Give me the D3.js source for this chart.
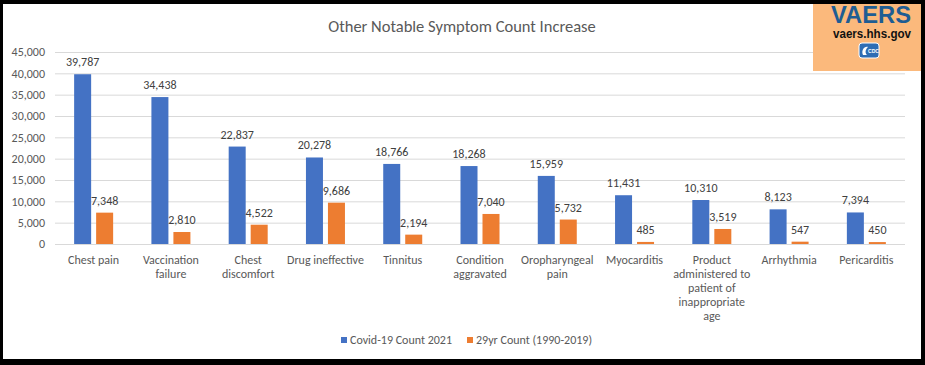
<!DOCTYPE html>
<html>
<head>
<meta charset="utf-8">
<script src="https://cdn.jsdelivr.net/npm/d3@7"></script>
<style>
  html, body { margin: 0; padding: 0; background: #000; }
  svg { display: block; }
  text { font-family: Carlito, Calibri, Lato, "Open Sans", sans-serif; }
</style>
</head>
<body>
<svg id="chart" width="925" height="365"></svg>
<script>
// categories, each one split into its label lines
const categories = [
  "Chest pain", "Vaccination failure", "Chest discomfort", "Drug ineffective",
  "Tinnitus", "Condition aggravated", "Oropharyngeal pain", "Myocarditis",
  "Product administered to patient of inappropriate age", "Arrhythmia", "Pericarditis"
];
const tickLines = [
  ["Chest pain"], ["Vaccination", "failure"], ["Chest", "discomfort"], ["Drug ineffective"],
  ["Tinnitus"], ["Condition", "aggravated"], ["Oropharyngeal", "pain"], ["Myocarditis"],
  ["Product", "administered to", "patient of", "inappropriate", "age"], ["Arrhythmia"], ["Pericarditis"]
];
const covidCounts = [39787, 34438, 22837, 20278, 18766, 18268, 15959, 11431, 10310, 8123, 7394];
const priorCounts = [7348, 2810, 4522, 9686, 2194, 7040, 5732, 485, 3519, 547, 450];
const seriesNames = ["Covid-19 Count 2021", "29yr Count (1990-2019)"];
const seriesColors = ["#4472C4", "#ED7D31"];
const yTicks = d3.range(0, 45001, 5000);

const svg = d3.select("#chart");

// white card inside the black frame
svg.append("rect")
  .attr("x", 3).attr("y", 4)
  .attr("width", 918).attr("height", 355)
  .attr("fill", "#fff");

const plot = { left: 55, right: 905, top: 52, bottom: 244 };

const x = d3.scaleBand()
  .domain(categories)
  .range([plot.left, plot.right]);
const bw = x.bandwidth();
const xs = d3.scaleBand()
  .domain(seriesNames)
  .range([bw / 2 - 19.5, bw / 2 + 19.5])
  .paddingInner(0.227);
const y = d3.scaleLinear()
  .domain([0, 45000])
  .range([plot.bottom, plot.top]);

// title
svg.append("text")
  .attr("x", 462).attr("y", 32)
  .attr("text-anchor", "middle")
  .attr("font-size", 16.5)
  .attr("fill", "#595959")
  .text("Other Notable Symptom Count Increase");

// gridlines + y axis labels
const yAxis = d3.axisLeft(y)
  .tickValues(yTicks)
  .tickSize(-(plot.right - plot.left))
  .tickPadding(10)
  .tickFormat(d3.format(","));
const yg = svg.append("g")
  .attr("transform", `translate(${plot.left},0)`)
  .call(yAxis);
yg.select(".domain").remove();
yg.selectAll(".tick line").attr("stroke", "#D9D9D9").attr("stroke-width", 1);
yg.selectAll(".tick text")
  .attr("fill", "#595959")
  .attr("font-size", 12)
  .style("font-family", "Carlito, Calibri, Lato, sans-serif");

// bars
const rows = categories.map((c, i) => ({ cat: c, vals: [covidCounts[i], priorCounts[i]] }));
const groups = svg.append("g").selectAll("g")
  .data(rows)
  .join("g")
  .attr("transform", d => `translate(${x(d.cat)},0)`);

groups.selectAll("rect")
  .data(d => d.vals.map((v, k) => ({ s: seriesNames[k], v, k })))
  .join("rect")
  .attr("x", d => xs(d.s))
  .attr("y", d => y(d.v))
  .attr("width", xs.bandwidth())
  .attr("height", d => y(0) - y(d.v))
  .attr("fill", d => seriesColors[d.k]);

groups.selectAll("text.val")
  .data(d => d.vals.map((v, k) => ({ s: seriesNames[k], v, k })))
  .join("text")
  .attr("class", "val")
  .attr("x", d => xs(d.s) + xs.bandwidth() / 2)
  .attr("y", d => y(d.v) - 8)
  .attr("text-anchor", "middle")
  .attr("font-size", 12)
  .attr("fill", "#404040")
  .text(d => d3.format(",")(d.v));

// category labels
const xl = svg.append("g").selectAll("text")
  .data(categories)
  .join("text")
  .attr("x", d => x(d) + bw / 2)
  .attr("y", 264)
  .attr("text-anchor", "middle")
  .attr("font-size", 12)
  .attr("fill", "#595959");
xl.each(function (d, i) {
  d3.select(this).selectAll("tspan")
    .data(tickLines[i])
    .join("tspan")
    .attr("x", x(d) + bw / 2)
    .attr("dy", (t, j) => j === 0 ? 0 : 14)
    .text(t => t);
});

// legend
const legend = svg.append("g");
const legendX = [341, 467];
seriesNames.forEach((name, k) => {
  legend.append("rect")
    .attr("x", legendX[k]).attr("y", 337)
    .attr("width", 6).attr("height", 6)
    .attr("fill", seriesColors[k]);
  legend.append("text")
    .attr("x", legendX[k] + 9).attr("y", 344)
    .attr("font-size", 12)
    .attr("fill", "#595959")
    .text(name);
});

// VAERS badge
const logo = svg.append("g");
logo.append("rect")
  .attr("x", 813).attr("y", 4)
  .attr("width", 108).attr("height", 67)
  .attr("fill", "#FBB97C");
logo.append("text")
  .attr("x", 831).attr("y", 23)
  .attr("textLength", 80).attr("lengthAdjust", "spacingAndGlyphs")
  .attr("font-size", 23).attr("font-weight", "bold")
  .attr("fill", "#1E5D93")
  .style("font-family", "'Liberation Sans', Arial, sans-serif")
  .text("VAERS");
logo.append("text")
  .attr("x", 833).attr("y", 38)
  .attr("textLength", 78).attr("lengthAdjust", "spacingAndGlyphs")
  .attr("font-size", 12).attr("font-weight", "bold")
  .attr("fill", "#111")
  .style("font-family", "'Liberation Sans', Arial, sans-serif")
  .text("vaers.hhs.gov");
logo.append("rect")
  .attr("x", 859).attr("y", 43)
  .attr("width", 20).attr("height", 15)
  .attr("rx", 3)
  .attr("fill", "#2E6DB4")
  .attr("stroke", "#fff").attr("stroke-width", 1);
logo.append("path")
  .attr("d", "M863,55 C861,51 864,46 868,47 C865,50 865,53 867,55 Z")
  .attr("fill", "#fff");
logo.append("text")
  .attr("x", 873.5).attr("y", 52.5)
  .attr("text-anchor", "middle")
  .attr("font-size", 5).attr("font-weight", "bold")
  .attr("fill", "#fff")
  .style("font-family", "'Liberation Sans', Arial, sans-serif")
  .text("CDC");
</script>
</body>
</html>
